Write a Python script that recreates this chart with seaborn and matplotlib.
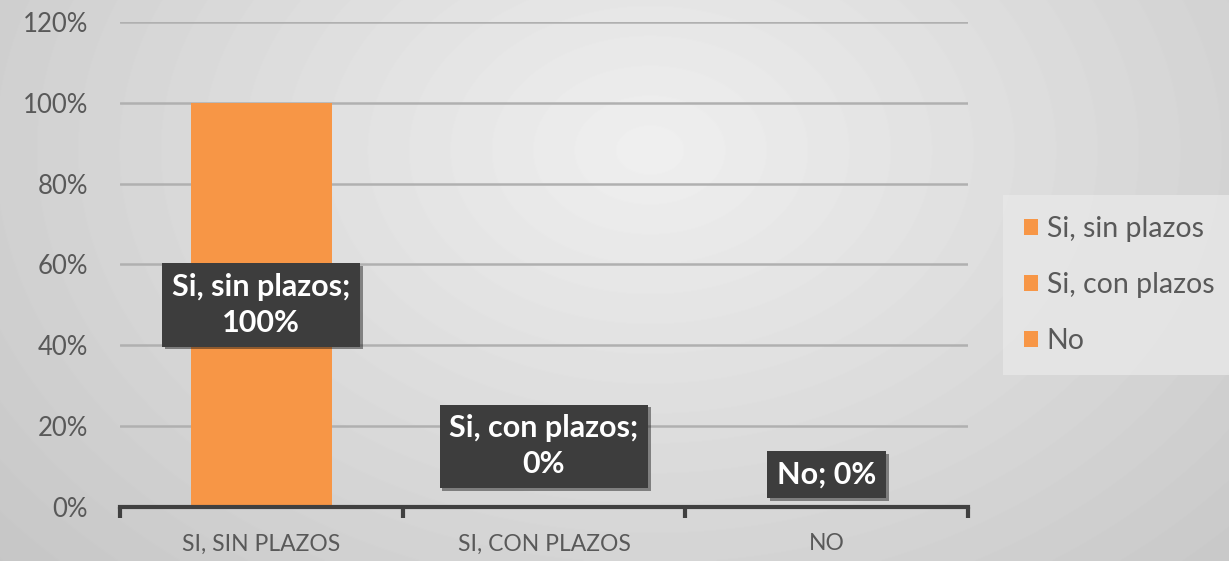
import numpy as np
import pandas as pd
import matplotlib.pyplot as plt
import matplotlib.patheffects as pe
from matplotlib.ticker import PercentFormatter, FixedLocator
import seaborn as sns

# data
categories = ['SI, SIN PLAZOS', 'SI, CON PLAZOS', 'NO']
series = ['Si, sin plazos', 'Si, con plazos', 'No']
values = [1.00, 0.00, 0.00]
label_offsets = [0.50, 0.15, 0.08]  # where the dark label box sits (in data units)

orange = '#F79646'
text_gray = '#595959'

sns.set_theme(style='white')
plt.rcParams['font.family'] = ['Lato', 'DejaVu Sans']

fig = plt.figure(figsize=(12.29, 5.61), dpi=100)

# radial gray background like the Excel chart area
bg = fig.add_axes([0, 0, 1, 1], zorder=-10)
yy, xx = np.mgrid[0:561, 0:1229]
r = np.sqrt(((xx - 650) / 900) ** 2 + ((yy - 150) / 650) ** 2)
shade = np.clip(0.94 - 0.17 * r, 0.76, 0.94)
bg.imshow(shade, cmap='gray', vmin=0, vmax=1, aspect='auto', extent=[0, 1, 0, 1])
bg.axis('off')

ax = fig.add_axes([0.0976, 0.0963, 0.69, 0.8645])
ax.set_facecolor('none')

df = pd.DataFrame({'cat': categories, 'val': values, 'serie': series})
sns.barplot(data=df, x='cat', y='val', hue='serie', palette=[orange] * 3,
            dodge=False, width=0.5, saturation=1, linewidth=0,
            ax=ax, legend=True, zorder=3)

ax.set_ylim(0, 1.2)
ax.set_xlim(-0.5, 2.5)
ax.yaxis.set_major_locator(FixedLocator(np.arange(0, 1.21, 0.2)))
ax.yaxis.set_major_formatter(PercentFormatter(1.0, decimals=0))
ax.grid(axis='y', color='#b0b0b0', linewidth=1.8, zorder=0)
ax.set_axisbelow(True)
ax.set_xlabel('')
ax.set_ylabel('')

for s in ['top', 'right', 'left']:
    ax.spines[s].set_visible(False)
ax.spines['bottom'].set_color('#404040')
ax.spines['bottom'].set_linewidth(3)
ax.spines['bottom'].set_zorder(4)

ax.tick_params(axis='y', length=0, labelsize=18.5, labelcolor=text_gray, pad=23)
ax.tick_params(axis='x', which='major', length=0, labelsize=16.5, labelcolor=text_gray, pad=19)
ax.set_xticks([-0.5, 0.5, 1.5, 2.5], minor=True)
ax.tick_params(axis='x', which='minor', bottom=True, length=8, width=3,
               color='#404040', direction='out')

# data labels in dark callout boxes
for i, (name, v, off) in enumerate(zip(series, values, label_offsets)):
    txt = f'{name}; {v:.0%}'
    if len(name) > 3:
        txt = f'{name};\n{v:.0%}'
    ax.text(i, off, txt, ha='center', va='center', fontsize=22, fontweight='bold',
            color='white', linespacing=1.35, zorder=6,
            bbox=dict(boxstyle='square,pad=0.32', facecolor='#3d3d3d', edgecolor='none',
                      path_effects=[pe.withSimplePatchShadow(offset=(2, -2), alpha=0.45)]))

leg = ax.legend(loc='center left', bbox_to_anchor=(1.024, 0.458), frameon=True,
                fontsize=20.5, labelcolor=text_gray, handlelength=0.5, handleheight=0.5,
                handletextpad=0.3, labelspacing=1.05, borderpad=0.75, fancybox=False)
leg.get_frame().set_facecolor('#e8e8e8')
leg.get_frame().set_edgecolor('none')
leg.get_frame().set_alpha(0.8)
for h in leg.legend_handles:
    h.set_edgecolor('none')

fig.savefig('out.png', dpi=100)
